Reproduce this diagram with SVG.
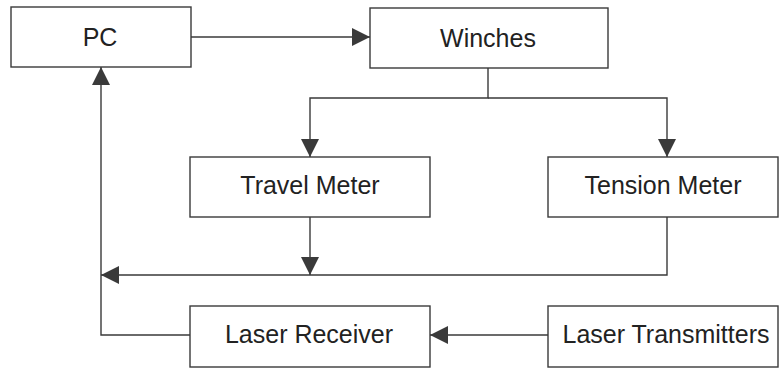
<svg xmlns="http://www.w3.org/2000/svg" width="779" height="368" viewBox="0 0 779 368">
<style>
.box{fill:#fff;stroke:#3a3a3a;stroke-width:1.4}
.lbl{font-family:"Liberation Sans",Arial,sans-serif;font-size:25px;fill:#222;text-anchor:middle}
.con{fill:none;stroke:#3a3a3a;stroke-width:1.4}
</style>
<defs>
<marker id="ah" viewBox="0 0 18 18" refX="18" refY="9" markerWidth="18" markerHeight="18" markerUnits="userSpaceOnUse" orient="auto">
<path d="M0,0 L18,9 L0,18 z" fill="#3a3a3a"/>
</marker>
</defs>
<rect width="779" height="368" fill="#fff"/>
<g id="connectors">
<path class="con" d="M191,37 H370" marker-end="url(#ah)"/>
<path class="con" d="M488,68 V98 H310 V157" marker-end="url(#ah)"/>
<path class="con" d="M488,98 H667 V157" marker-end="url(#ah)"/>
<path class="con" d="M310,217 V275" marker-end="url(#ah)"/>
<path class="con" d="M667,217 V275 H101" marker-end="url(#ah)"/>
<path class="con" d="M190,335 H101 V67" marker-end="url(#ah)"/>
<path class="con" d="M548,335 H430" marker-end="url(#ah)"/>
</g>
<g id="pc"><rect class="box" x="11" y="7" width="180" height="60"/><text class="lbl" x="100" y="46">PC</text></g>
<g id="winches"><rect class="box" x="370" y="8" width="238" height="60"/><text class="lbl" x="488" y="47">Winches</text></g>
<g id="travel"><rect class="box" x="190" y="157" width="240" height="60"/><text class="lbl" x="310" y="194">Travel Meter</text></g>
<g id="tension"><rect class="box" x="548" y="157" width="230" height="60"/><text class="lbl" x="663" y="194">Tension Meter</text></g>
<g id="receiver"><rect class="box" x="190" y="306" width="240" height="61"/><text class="lbl" x="309" y="343">Laser Receiver</text></g>
<g id="transmitters"><rect class="box" x="548" y="306" width="230" height="61"/><text class="lbl" x="666" y="343">Laser Transmitters</text></g>
</svg>
